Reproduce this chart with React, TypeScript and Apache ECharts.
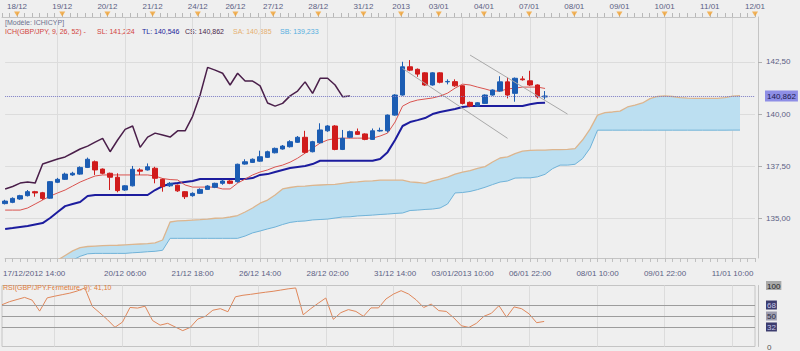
import React, { useEffect, useRef } from "react";
import * as echarts from "echarts";

const N_SLOTS = 101;
const CLOUD_START = 7;

const bottomLabelIdx = [0, 16, 25, 34, 43, 52, 61, 70, 79, 88, 97];
const bottomLabelText = [
  "17/12/2012 14:00", "20/12 06:00", "21/12 18:00", "26/12 14:00", "28/12 02:00",
  "31/12 14:00", "03/01/2013 10:00", "06/01 22:00", "08/01 10:00", "09/01 22:00", "11/01 10:00",
];
const dayIdx = [2, 8, 14, 20, 26, 31, 36, 42, 48, 53, 58, 64, 70, 76, 82, 88, 94, 100];
const dayText = [
  "18/12", "19/12", "20/12", "21/12", "24/12", "26/12", "27/12", "28/12", "31/12",
  "2013", "03/01", "04/01", "07/01", "08/01", "09/01", "10/01", "11/01", "12/01",
];
const priceTicks = [135, 137.5, 140, 142.5];
const rsiTicks = [0, 32, 50, 68, 100];
const rsiLevels = [32, 50, 68];

const opens = [
  135.72, 135.78, 135.94, 136.10, 136.29, 136.24, 135.98, 136.74, 136.88, 137.09,
  137.13, 137.45, 137.72, 137.37, 137.17, 136.98, 136.37, 136.57, 137.33, 137.33,
  137.41, 136.88, 136.57, 136.60, 136.29, 136.10, 136.21, 136.40, 136.50, 136.69,
  136.80, 136.77, 137.61, 137.69, 137.75, 137.93, 138.15, 138.33, 138.44, 138.65,
  138.89, 138.20, 138.63, 139.20, 139.43, 138.31, 138.89, 139.16, 139.05, 138.79,
  139.19, 139.20, 139.95, 140.91, 142.26, 142.14, 141.97, 141.39, 141.97, 141.54,
  141.55, 141.35, 140.56, 140.38, 140.51, 140.91, 141.10, 141.54, 140.99, 141.68,
  141.59, 141.39, 140.82,
];
const closes = [
  135.84, 135.97, 136.10, 136.29, 136.23, 135.97, 136.77, 136.88, 137.13, 137.17,
  137.45, 137.84, 137.33, 137.17, 136.98, 136.34, 136.57, 137.36, 137.27, 137.48,
  136.93, 136.53, 136.69, 136.33, 136.05, 136.21, 136.40, 136.56, 136.69, 136.80,
  136.69, 137.60, 137.72, 137.84, 137.96, 138.20, 138.36, 138.47, 138.68, 138.89,
  138.17, 138.68, 139.24, 139.43, 138.31, 138.84, 139.16, 139.03, 138.79, 139.20,
  139.22, 139.95, 140.91, 142.26, 142.10, 141.91, 141.39, 141.97, 141.52, 141.56,
  141.35, 140.51, 140.38, 140.54, 140.91, 141.15, 141.54, 140.91, 141.71, 141.64,
  141.39, 140.83, 140.862,
];
const lows = [
  135.68, 135.74, 135.90, 136.06, 136.05, 135.90, 135.95, 136.70, 136.85, 137.05,
  137.10, 137.42, 137.09, 137.12, 136.37, 136.26, 136.33, 136.54, 137.09, 137.30,
  136.69, 136.29, 136.52, 136.28, 135.94, 136.05, 136.18, 136.37, 136.46, 136.62,
  136.65, 136.72, 137.58, 137.66, 137.72, 137.90, 138.12, 138.30, 138.40, 138.62,
  138.12, 138.17, 138.60, 139.15, 138.27, 138.28, 138.85, 139.00, 138.75, 138.76,
  139.16, 139.12, 139.92, 140.88, 142.05, 141.78, 141.35, 141.36, 141.47, 141.42,
  141.30, 140.46, 140.33, 140.35, 140.48, 140.88, 141.07, 140.75, 140.59, 141.60,
  141.35, 140.75, 140.70,
];
const highs = [
  135.90, 136.02, 136.14, 136.37, 136.33, 136.28, 136.80, 136.95, 137.20, 137.24,
  137.50, 137.92, 137.78, 137.40, 137.20, 137.17, 136.60, 137.52, 137.41, 137.64,
  137.48, 136.92, 136.75, 136.63, 136.32, 136.26, 136.45, 136.60, 136.72, 136.86,
  136.84, 137.63, 137.84, 137.88, 138.25, 138.25, 138.40, 138.52, 138.75, 138.95,
  139.20, 138.72, 139.56, 139.47, 139.47, 139.24, 139.21, 139.31, 139.08, 139.31,
  139.35, 139.98, 140.95, 142.50, 142.58, 142.18, 142.00, 142.00, 142.00, 141.66,
  141.66, 141.38, 140.60, 140.57, 140.94, 141.18, 141.81, 141.75, 141.75, 141.81,
  142.07, 141.42, 141.10,
];
const tenkan = [
  135.41, 135.41, 135.41, 135.51, 135.70, 135.89, 136.08, 136.23, 136.37, 136.56,
  136.75, 136.90, 137.04, 137.09, 137.09, 137.09, 137.09, 137.09, 137.09, 137.09,
  137.04, 136.92, 136.87, 136.85, 136.61, 136.51, 136.51, 136.51, 136.51, 136.42,
  136.42, 136.70, 136.89, 137.09, 137.23, 137.33, 137.47, 137.56, 137.70, 137.89,
  138.13, 138.37, 138.61, 138.76, 138.83, 138.85, 138.85, 138.85, 138.85, 138.85,
  138.95, 139.09, 139.62, 140.38, 140.57, 140.67, 140.72, 140.77, 140.86, 141.00,
  141.24, 141.43, 141.39, 141.29, 141.20, 141.10, 141.10, 141.20, 141.24, 141.29,
  141.29, 141.29, 141.224,
];
const kijun = [
  134.51, 134.55, 134.60, 134.65, 134.72, 134.79, 135.03, 135.32, 135.60, 135.70,
  135.80, 136.08, 136.13, 136.13, 136.13, 136.13, 136.13, 136.13, 136.13, 136.13,
  136.37, 136.56, 136.66, 136.70, 136.75, 136.80, 136.90, 136.90, 136.90, 136.90,
  136.90, 136.90, 136.90, 136.94, 137.09, 137.13, 137.23, 137.33, 137.42, 137.47,
  137.52, 137.61, 137.77, 137.77, 137.77, 137.77, 137.77, 137.77, 137.77, 137.77,
  137.85, 138.18, 138.76, 139.43, 139.62, 139.71, 139.81, 140.00, 140.10, 140.17,
  140.24, 140.34, 140.38, 140.39, 140.39, 140.39, 140.39, 140.39, 140.39, 140.39,
  140.47, 140.53, 140.546,
];
const chikou = [
  136.42, 136.54, 136.70, 136.75, 136.70, 137.61, 137.73, 137.85, 137.95, 138.14,
  138.33, 138.47, 138.66, 138.84, 138.20, 138.76, 139.27, 139.43, 138.41, 138.90,
  139.09, 139.00, 138.90, 139.20, 139.20, 139.89, 140.91, 142.23, 142.10, 141.95,
  141.39, 141.95, 141.58, 141.58, 141.35, 140.53, 140.38, 140.51, 140.87, 141.10,
  141.54, 140.99, 141.71, 141.71, 141.39, 140.83, 140.86,
];
const senkouA = [
  133.02, 133.24, 133.46, 133.62, 133.67, 133.69, 133.71, 133.72, 133.73, 133.75,
  133.77, 133.79, 133.81, 133.84, 133.98, 134.84, 134.89, 134.91, 134.93, 134.95,
  134.98, 135.02, 135.03, 135.08, 135.15, 135.32, 135.51, 135.74, 135.89, 136.13,
  136.42, 136.49, 136.54, 136.56, 136.59, 136.61, 136.63, 136.64, 136.69, 136.74,
  136.76, 136.79, 136.81, 136.84, 136.84, 136.84, 136.84, 136.76, 136.73, 136.69,
  136.81, 136.89, 136.99, 137.13, 137.23, 137.30, 137.40, 137.49, 137.71, 137.90,
  137.95, 138.11, 138.23, 138.26, 138.28, 138.28, 138.30, 138.30, 138.31, 138.35,
  138.76, 139.28, 139.95, 140.07, 140.10, 140.14, 140.34, 140.43, 140.53, 140.74,
  140.84, 140.87, 140.84, 140.79, 140.76, 140.75, 140.75, 140.75, 140.75, 140.79,
  140.86, 140.885,
];
const senkouB = [
  132.78, 132.93, 133.02, 133.20, 133.32, 133.34, 133.34, 133.34, 133.34, 133.34,
  133.37, 133.39, 133.42, 133.44, 133.49, 134.06, 134.06, 134.06, 134.06, 134.06,
  134.06, 134.06, 134.06, 134.06, 134.06, 134.17, 134.32, 134.41, 134.51, 134.60,
  134.72, 134.82, 134.87, 134.89, 134.94, 134.96, 134.98, 135.03, 135.08, 135.09,
  135.13, 135.15, 135.17, 135.20, 135.22, 135.25, 135.27, 135.39, 135.41, 135.44,
  135.46, 135.51, 135.70, 136.23, 136.25, 136.30, 136.39, 136.50, 136.63, 136.75,
  136.80, 136.94, 136.95, 136.95, 137.00, 137.12, 137.39, 137.56, 137.56, 137.60,
  137.87, 138.37, 139.23, 139.23, 139.23, 139.23, 139.23, 139.23, 139.23, 139.23,
  139.23, 139.23, 139.23, 139.23, 139.23, 139.23, 139.23, 139.23, 139.23, 139.23,
  139.233, 139.233,
];
const rsi = [
  68.5, 73.5, 77, 80.5, 76, 58, 79.7, 82.5, 85, 87.5,
  91, 96, 65.5, 55, 44, 31.5, 40, 64, 63, 66,
  42.5, 35, 38, 32, 26, 31.3, 45, 49.4, 59.5, 62,
  57, 81.5, 84, 85.5, 87.3, 89, 90.5, 92.5, 94.5, 96,
  52, 62, 71, 79.5, 44.5, 55.5, 60.5, 57.5, 49.5, 63.3,
  63.3, 78, 86, 91.5, 86, 76.5, 64, 69.5, 58.8, 57.5,
  47, 34, 31.3, 38, 49.5, 54.5, 67, 48, 64.9, 62,
  53.5, 39, 41.1,
];
// trend lines: [xIndexStart, priceStart, xIndexEnd, priceEnd]
const trendLines = [
  [53.3, 142.18, 66.8, 138.84],
  [61.9, 142.82, 74.8, 140.0],
];
const lastClose = 140.862;

const legendItems = [
  { text: "ICH(GBP/JPY, 9, 26, 52) -", color: "#d2433d" },
  { text: "SL: 141,224", color: "#d2433d" },
  { text: "TL: 140,546", color: "#23239a" },
  { text: "CS: 140,862", color: "#4a1f4a" },
  { text: "SA: 140,885", color: "#e6b070" },
  { text: "SB: 139,233", color: "#55aee0" },
];
const legendX = [5, 97, 142, 185, 233, 280];

const FONT = "Liberation Sans, Arial, sans-serif";
const AXIS_TXT = "#5b6184";
const GRID_LINE = "#dcdcdc";
const FRAME = "#c4c4c4";

export default function App() {
  const ref = useRef<HTMLDivElement>(null);

  useEffect(() => {
    if (!ref.current) return;
    const chart = echarts.init(ref.current, undefined, { renderer: "svg" });

    const slots = Array.from({ length: N_SLOTS }, (_, i) => String(i));
    const bottomData = slots.map(() => "");
    bottomLabelIdx.forEach((idx, k) => (bottomData[idx] = bottomLabelText[k]));
    const topData = slots.map(() => "");
    dayIdx.forEach((idx, k) => (topData[idx] = dayText[k]));

    const pad = (arr: number[], start: number) => {
      const out: (number | null)[] = Array(N_SLOTS).fill(null);
      arr.forEach((v, k) => (out[start + k] = v));
      return out;
    };
    const saFull = pad(senkouA, CLOUD_START);
    const sbFull = pad(senkouB, CLOUD_START);
    const diff = saFull.map((v, i) => (v == null || sbFull[i] == null ? null : (v as number) - (sbFull[i] as number)));

    const candles = opens.map((o, i) => [o, closes[i], lows[i], highs[i]]);
    const vSplit = (i: number) => i >= 7 && (i - 7) % 9 === 0;

    const rsiRich: any = {};
    const rsiStyle: any = {
      0: { backgroundColor: "transparent", color: "#555" },
      32: { backgroundColor: "#3c3c6e", color: "#c9c9e6" },
      50: { backgroundColor: "#9d9daf", color: "#2a2a40" },
      68: { backgroundColor: "#3c3c6e", color: "#c9c9e6" },
      100: { backgroundColor: "#a9a9a9", color: "#222" },
    };
    rsiTicks.forEach((t) => {
      rsiRich["r" + t] = { ...rsiStyle[t], fontSize: 8, fontFamily: FONT, padding: [1, 1, 0, 1] };
    });

    const lineBase = { type: "line", symbol: "none", showSymbol: false, smooth: false, silent: true };
    const txtStyle = (text: string, fill: string) => ({
      text, fill, font: "7px " + FONT, verticalAlign: "top",
    });

    const option: any = {
      animation: false,
      backgroundColor: "#efefef",
      textStyle: { fontFamily: FONT },
      grid: [
        { left: 2, right: 45, top: 11, height: 6 },
        { left: 2, right: 45, top: 17, height: 241 },
        { left: 2, right: 45, top: 285.5, height: 61.2, show: true, borderColor: FRAME, borderWidth: 1 },
      ],
      xAxis: [
        {
          gridIndex: 0, type: "category", boundaryGap: false, data: slots, position: "bottom",
          axisLine: { show: true, lineStyle: { color: FRAME } },
          axisTick: { show: true, inside: true, length: 4, interval: 0, lineStyle: { color: "#b8b8b8" } },
          axisLabel: { show: false }, splitLine: { show: false },
        },
        {
          gridIndex: 0, type: "category", boundaryGap: false, data: topData, position: "top",
          axisLine: { show: false }, axisTick: { show: false },
          axisLabel: { show: true, interval: (_i: number, v: string) => v !== "", margin: 1, fontSize: 8, color: AXIS_TXT, fontFamily: FONT },
          splitLine: { show: false },
        },
        {
          gridIndex: 1, type: "category", boundaryGap: false, data: bottomData,
          axisLine: { show: true, lineStyle: { color: FRAME } },
          axisTick: { show: true, length: 4, interval: 0, lineStyle: { color: "#c0c0c0" } },
          axisLabel: {
            show: true, interval: (_i: number, v: string) => v !== "", margin: 11, fontSize: 8, color: AXIS_TXT, fontFamily: FONT,
            formatter: (v: string, i: number) => (i === 0 ? "{first|" + v + "}" : v),
            rich: { first: { padding: [0, 0, 0, 58], fontSize: 8, color: AXIS_TXT, fontFamily: FONT } },
          },
          splitLine: { show: true, interval: vSplit, lineStyle: { color: GRID_LINE, width: 1 } },
        },
        {
          gridIndex: 2, type: "category", boundaryGap: false, data: slots,
          axisLine: { show: false }, axisTick: { show: false }, axisLabel: { show: false },
          splitLine: { show: true, interval: vSplit, lineStyle: { color: GRID_LINE, width: 1 } },
        },
      ],
      yAxis: [
        { gridIndex: 0, type: "value", min: 0, max: 1, show: false },
        {
          gridIndex: 1, type: "value", position: "right", offset: 3, min: 133.12, max: 144.64, scale: true,
          axisLine: { show: true, lineStyle: { color: FRAME } },
          axisTick: { show: true, customValues: priceTicks, length: 4, lineStyle: { color: "#b0b0b0" } },
          axisLabel: {
            show: true, customValues: priceTicks, margin: 8, fontSize: 8, color: AXIS_TXT, fontFamily: FONT,
            formatter: (v: number) => v.toFixed(2).replace(".", ","),
          },
          splitLine: { show: true, lineStyle: { color: GRID_LINE, width: 1 } },
        },
        {
          gridIndex: 2, type: "value", position: "right", offset: 3, min: 0, max: 100,
          axisLine: { show: true, lineStyle: { color: FRAME } },
          axisTick: { show: false },
          axisLabel: {
            show: true, customValues: rsiTicks, margin: 8, fontFamily: FONT,
            formatter: (v: number) => "{r" + v + "|" + v + "}", rich: rsiRich,
          },
          splitLine: { show: false },
        },
      ],
      graphic: [
        { type: "text", left: 5, top: 18.5, silent: true, style: txtStyle("[Modèle: ICHICYP]", "#6b6f8e") },
        ...legendItems.map((it, k) => ({
          type: "text", left: legendX[k], top: 27.5, silent: true,
          style: txtStyle(it.text, it.color),
        })),
        { type: "text", left: 3, top: 284, silent: true, style: txtStyle("RSI(GBP/JPY.Fermeture, 9): 41,10", "#e07b39") },
      ],
      series: [
        {
          type: "scatter", xAxisIndex: 0, yAxisIndex: 0, silent: true,
          data: dayIdx.map((i) => [i, 0.5]),
          symbol: "triangle", symbolRotate: 180, symbolSize: [6, 5],
          itemStyle: { color: "#f3a332" }, clip: false,
        },
        {
          ...lineBase, name: "cloudBase", xAxisIndex: 2, yAxisIndex: 1, stack: "cloud",
          data: sbFull, lineStyle: { width: 0, opacity: 0 }, z: 1,
        },
        {
          ...lineBase, name: "cloud", xAxisIndex: 2, yAxisIndex: 1, stack: "cloud",
          data: diff, lineStyle: { width: 0, opacity: 0 }, areaStyle: { color: "#bcdff1", opacity: 1 }, z: 1,
        },
        {
          ...lineBase, name: "SB", xAxisIndex: 2, yAxisIndex: 1, data: sbFull,
          lineStyle: { color: "#6fb2d8", width: 1 }, z: 2,
        },
        {
          ...lineBase, name: "SA", xAxisIndex: 2, yAxisIndex: 1, data: saFull,
          lineStyle: { color: "#dcb58e", width: 1.3 }, z: 2,
        },
        {
          ...lineBase, name: "Kijun", xAxisIndex: 2, yAxisIndex: 1, data: kijun,
          lineStyle: { color: "#1c1c9e", width: 2 }, z: 3,
        },
        {
          ...lineBase, name: "Tenkan", xAxisIndex: 2, yAxisIndex: 1, data: tenkan,
          lineStyle: { color: "#d9534f", width: 1 }, z: 3,
        },
        {
          ...lineBase, name: "Chikou", xAxisIndex: 2, yAxisIndex: 1, data: chikou,
          lineStyle: { color: "#4a1f4a", width: 1.5 }, z: 3,
        },
        {
          type: "candlestick", name: "GBP/JPY", xAxisIndex: 2, yAxisIndex: 1, data: candles,
          barWidth: 5, silent: true, z: 4,
          itemStyle: { color: "#1c5db3", color0: "#d01c1c", borderColor: "#1c5db3", borderColor0: "#d01c1c", borderWidth: 1 },
          markLine: {
            silent: true, symbol: ["none", "none"], animation: false,
            lineStyle: { color: "#a9a9a9", width: 1, type: "solid" },
            label: { show: false },
            data: [
              ...trendLines.map((t) => [{ coord: [t[0], t[1]] }, { coord: [t[2], t[3]] }]),
              {
                yAxis: lastClose,
                lineStyle: { color: "#7c7cc4", type: "dotted", width: 1 },
                label: {
                  show: true, position: "end", distance: 10,
                  formatter: () => lastClose.toFixed(3).replace(".", ","),
                  backgroundColor: "#8e8ee6", color: "#1a1a50", padding: [2, 2, 1, 2], fontSize: 8, fontFamily: FONT,
                },
              },
            ],
          },
        },
        {
          ...lineBase, name: "RSI", xAxisIndex: 3, yAxisIndex: 2, data: rsi,
          lineStyle: { color: "#e0875a", width: 1 }, z: 3,
          markLine: {
            silent: true, symbol: ["none", "none"], animation: false,
            lineStyle: { color: "#9c9c9c", width: 1, type: "solid" },
            label: { show: false },
            data: rsiLevels.map((v) => ({ yAxis: v })),
          },
        },
      ],
    };

    chart.setOption(option);
    return () => chart.dispose();
  }, []);

  return (
    <div
      ref={ref}
      style={{ position: "fixed", left: 0, top: 0, width: 800, height: 351 }}
    />
  );
}
